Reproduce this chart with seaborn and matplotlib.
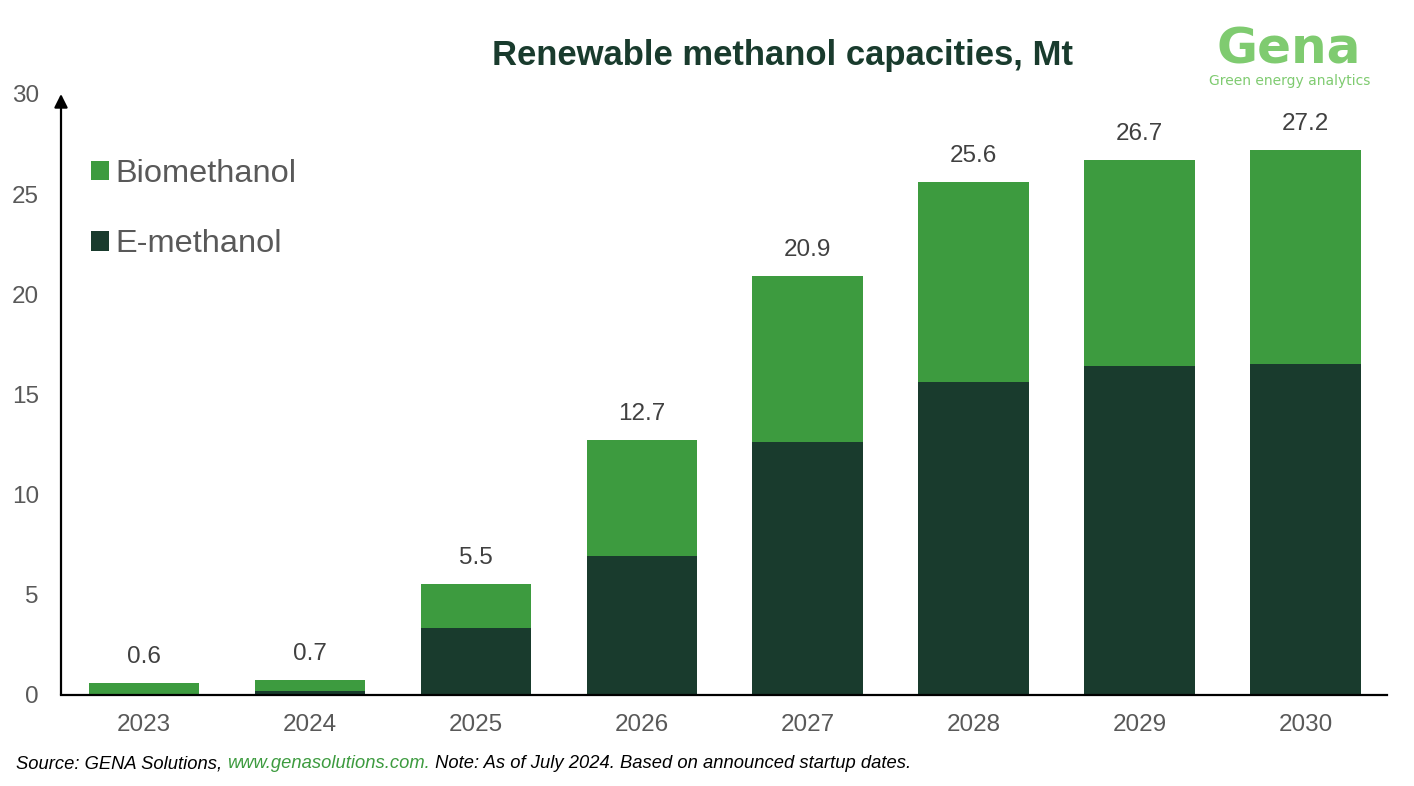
import matplotlib
matplotlib.use('Agg')
import matplotlib.pyplot as plt
import numpy as np
import pandas as pd
import seaborn as sns

# Data
years = ['2023', '2024', '2025', '2026', '2027', '2028', '2029', '2030']
e_methanol = [0.0, 0.15, 3.3, 6.9, 12.6, 15.6, 16.4, 16.5]
biomethanol = [0.55, 0.55, 2.2, 5.8, 8.3, 10.0, 10.3, 10.7]
total_labels = ['0.6', '0.7', '5.5', '12.7', '20.9', '25.6', '26.7', '27.2']
y_ticks = [0, 5, 10, 15, 20, 25, 30]

dark_green = '#193B2D'
mid_green = '#3D9B3F'
logo_green = '#7FCB70'
grey = '#595959'

sns.set_theme(style='white')
plt.rcParams['font.family'] = ['Liberation Sans', 'DejaVu Sans']

df = pd.DataFrame({'year': years, 'E-methanol': e_methanol, 'Biomethanol': biomethanol})
tops = df['E-methanol'] + df['Biomethanol']

fig = plt.figure(figsize=(14.14, 7.86), dpi=100)
ax = fig.add_axes([61 / 1414, 1 - 694.5 / 786, 1326 / 1414, 600.5 / 786])

sns.barplot(data=df, x='year', y='E-methanol', color=dark_green, width=0.667,
            saturation=1, label='E-methanol', linewidth=0, ax=ax)
sns.barplot(data=df, x='year', y='Biomethanol', color=mid_green, width=0.667,
            saturation=1, bottom=df['E-methanol'], label='Biomethanol', linewidth=0, ax=ax)

ax.set_xlim(-0.5, 7.49)
ax.set_ylim(0, 30)
ax.set_xlabel('')
ax.set_ylabel('')
ax.set_yticks(y_ticks)
ax.tick_params(axis='both', length=0, labelsize=17.5, labelcolor=grey)
ax.tick_params(axis='x', pad=14)
ax.tick_params(axis='y', pad=16)

for side in ['top', 'right', 'left']:
    ax.spines[side].set_visible(False)
ax.spines['bottom'].set_color('black')
ax.spines['bottom'].set_linewidth(1.6)

# y axis with arrow head
ax.annotate('', xy=(0, 1.0), xytext=(0, 0), xycoords='axes fraction',
            arrowprops=dict(arrowstyle='-|>', color='black', lw=1.6,
                            mutation_scale=20, shrinkA=0, shrinkB=0))

# totals above the bars
for i, (top, label) in enumerate(zip(tops, total_labels)):
    ax.annotate(label, (i, top), xytext=(0, 11), textcoords='offset points',
                ha='center', va='bottom', fontsize=17.5, color='#404040')

# legend, biomethanol first
handles, labels = ax.get_legend_handles_labels()
leg = ax.legend(handles[::-1], labels[::-1], loc='upper left',
                bbox_to_anchor=(30 / 1326, 1 - 65 / 600.5), frameon=False,
                fontsize=23.4, labelcolor=grey, handlelength=0.55, handleheight=0.55,
                handletextpad=0.2, labelspacing=1.24, borderpad=0, borderaxespad=0)

fig.text(783 / 1414, 1 - 56 / 786, 'Renewable methanol capacities, Mt', ha='center', va='center',
         fontsize=24.9, fontweight='bold', color=dark_green)

# logo
fig.text(1289 / 1414, 1 - 63 / 786, 'Gena', ha='center', va='baseline', fontsize=36,
         color=logo_green, family=['DejaVu Sans'], fontweight='bold')
fig.text(1290 / 1414, 1 - 74 / 786, 'Green energy analytics', ha='center', va='top',
         fontsize=10, color=logo_green, family=['DejaVu Sans'])

# source line, three pieces so the link can be green
src = fig.text(16 / 1414, 1 - 764 / 786, 'Source: GENA Solutions, ', ha='left', va='center',
               fontsize=13.2, style='italic', color='black')
link = ax.annotate('www.genasolutions.com.', xy=(1, 0.5), xycoords=src, va='center',
                   fontsize=13.2, style='italic', color=mid_green, annotation_clip=False)
ax.annotate(' Note: As of July 2024. Based on announced startup dates.', xy=(1, 0.5), xycoords=link,
            va='center', fontsize=13.2, style='italic', color='black', annotation_clip=False)

fig.savefig('out.png', dpi=100)
